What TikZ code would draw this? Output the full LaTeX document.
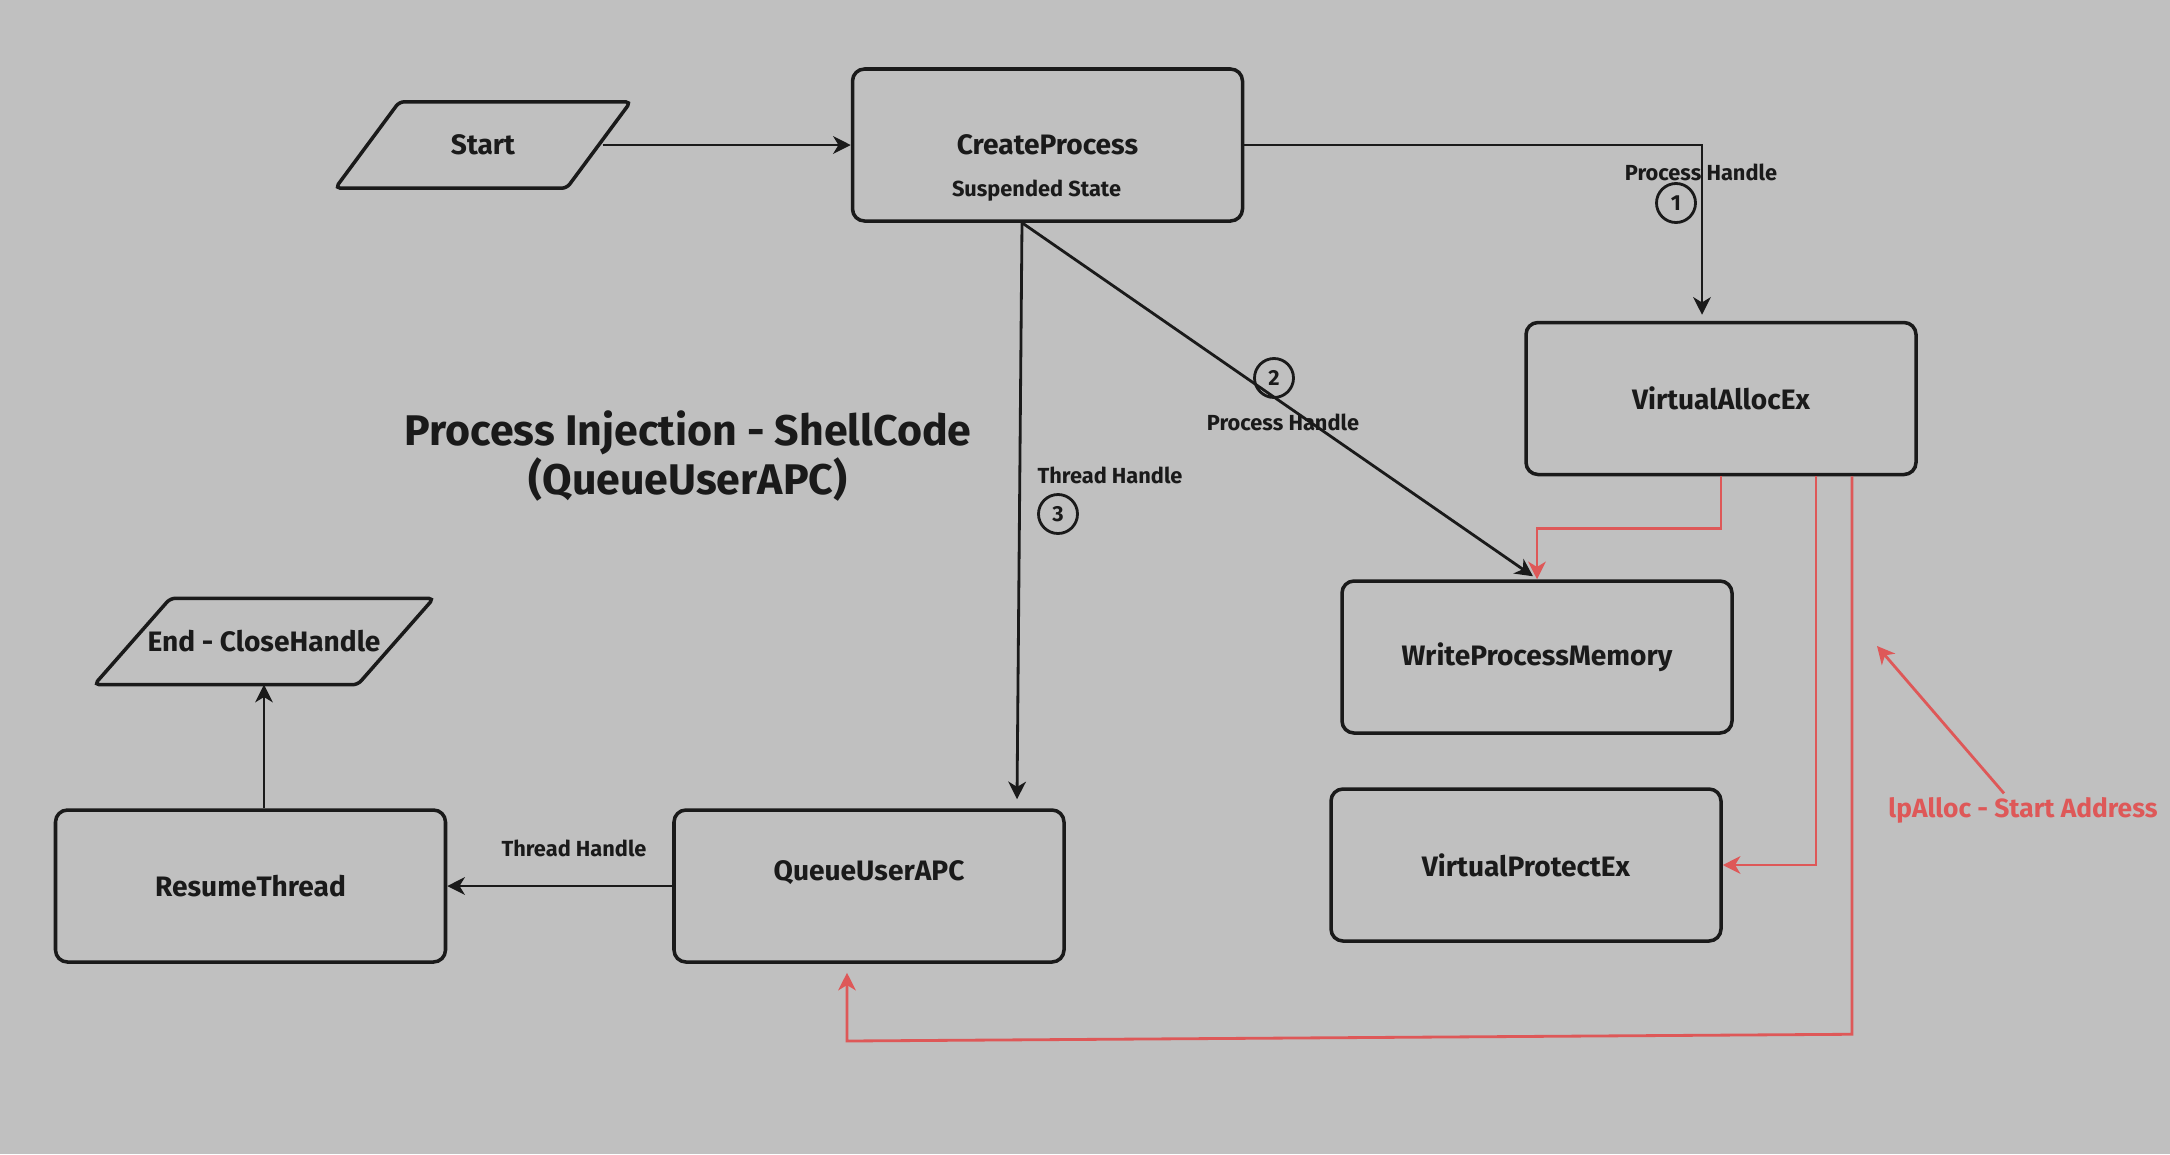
\documentclass[tikz,border=0pt]{standalone}
\usepackage{fontspec}
\setmainfont{Fira Sans}
\usetikzlibrary{arrows.meta}
\definecolor{bggray}{RGB}{192,192,192}
\definecolor{ink}{RGB}{26,26,26}
\definecolor{inkred}{RGB}{222,88,88}

\begin{document}
\begin{tikzpicture}[
  boxtext/.style={font=\fontsize{8}{9}\selectfont\bfseries, text=ink},
  box/.style={boxtext, draw=ink, line width=1pt, rounded corners=0.12cm,
    minimum width=3.9cm, minimum height=1.52cm, inner sep=0pt},
  paraframe/.style={minimum height=0.85cm, inner sep=0pt},
  parashape/.style={draw=ink, line width=1pt, rounded corners=0.05cm},
  handle/.style={font=\fontsize{6.2}{7}\selectfont\bfseries, text=ink, inner sep=0pt},
  numcirc/.style={circle, draw=ink, line width=0.8pt, minimum size=0.39cm, inner sep=0pt,
    font=\fontsize{6.2}{7}\selectfont\bfseries, text=ink},
  note/.style={font=\fontsize{7.5}{8}\selectfont\bfseries, text=inkred, inner sep=0pt},
  arrow/.style={draw=ink, line width=0.8pt, -{Stealth[length=5pt, width=5pt, inset=1.5pt]}},
  redarrow/.style={arrow, draw=inkred}
]
% Background
\fill[bggray] (0,0) rectangle (21.70,-11.54);
\useasboundingbox (0,0) rectangle (21.70,-11.54);

% Title
\node[font=\fontsize{12.2}{13}\selectfont\bfseries, text=ink, align=center] (title) at (6.88,-4.56)
  {Process Injection - ShellCode\\(QueueUserAPC)};

% Start / End parallelograms
\node[paraframe, minimum width=2.94cm, label={[boxtext]center:Start}] (start) at (4.83,-1.45) {};
\draw[parashape] ([xshift=0.64cm]start.north west) -- (start.north east)
  -- ([xshift=-0.64cm]start.south east) -- (start.south west) -- cycle;
\node[paraframe, minimum width=3.38cm, label={[boxtext]center:End - CloseHandle}] (end) at (2.64,-6.415) {};
\draw[parashape] ([xshift=0.76cm]end.north west) -- (end.north east)
  -- ([xshift=-0.76cm]end.south east) -- (end.south west) -- cycle;

% API calls
\node[box, label={[handle, xshift=-0.11cm, yshift=-0.46cm]center:Suspended State}] (create) at (10.475,-1.45) {CreateProcess};
\node[box] (valloc) at (17.21,-3.985) {VirtualAllocEx};
\node[box] (wpm) at (15.37,-6.57) {WriteProcessMemory};
\node[box] (vprot) at (15.26,-8.65) {VirtualProtectEx};
\node[box, label={[boxtext, yshift=0.13cm]center:QueueUserAPC}] (qapc) at (8.69,-8.86) {};
\node[box] (resume) at (2.505,-8.86) {ResumeThread};

% Handle labels
\node[handle] (ph1) at (17.01,-1.72) {Process Handle};
\node[numcirc] (n1) at (16.76,-2.03) {1};
\node[handle] (ph2) at (12.83,-4.22) {Process Handle};
\node[numcirc] (n2) at (12.74,-3.78) {2};
\node[handle] (th3) at (11.10,-4.75) {Thread Handle};
\node[numcirc] (n3) at (10.58,-5.14) {3};
\node[handle] (th4) at (5.74,-8.48) {Thread Handle};

% Black flow
\draw[arrow] ([xshift=-0.28cm]start.east) -- (start -| create.west);
\draw[arrow, shorten >=0.06cm] (create.east) -| ([xshift=-0.19cm]valloc.north);
\draw[arrow] ([xshift=-0.255cm]create.south) -- ([xshift=-0.04cm, yshift=0.03cm]wpm.north);
\draw[arrow] ([xshift=-0.255cm]create.south) -- ([xshift=1.48cm, yshift=0.09cm]qapc.north);
\draw[arrow] (qapc) -- (resume);
\draw[arrow] (resume.north -| end.south) -- (end.south);

% Allocated address (red)
\draw[redarrow] (valloc.south) -- ++(0,-0.52) -| (wpm.north);
\draw[redarrow] ([xshift=0.95cm]valloc.south) |- (vprot.east);
\coordinate (lpfoot) at (8.47,-10.41);
\draw[redarrow, shorten >=0.09cm] ([xshift=1.31cm]valloc.south) -- ++(0,-5.58) -- (lpfoot) -- (lpfoot |- qapc.south);
\node[note] (lpnote) at (20.23,-8.10) {lpAlloc - Start Address};
\coordinate (lptip) at (18.77,-6.46);
\draw[redarrow] ([xshift=-0.19cm, yshift=0.03cm]lpnote.north) -- (lptip);
\end{tikzpicture}
\end{document}
